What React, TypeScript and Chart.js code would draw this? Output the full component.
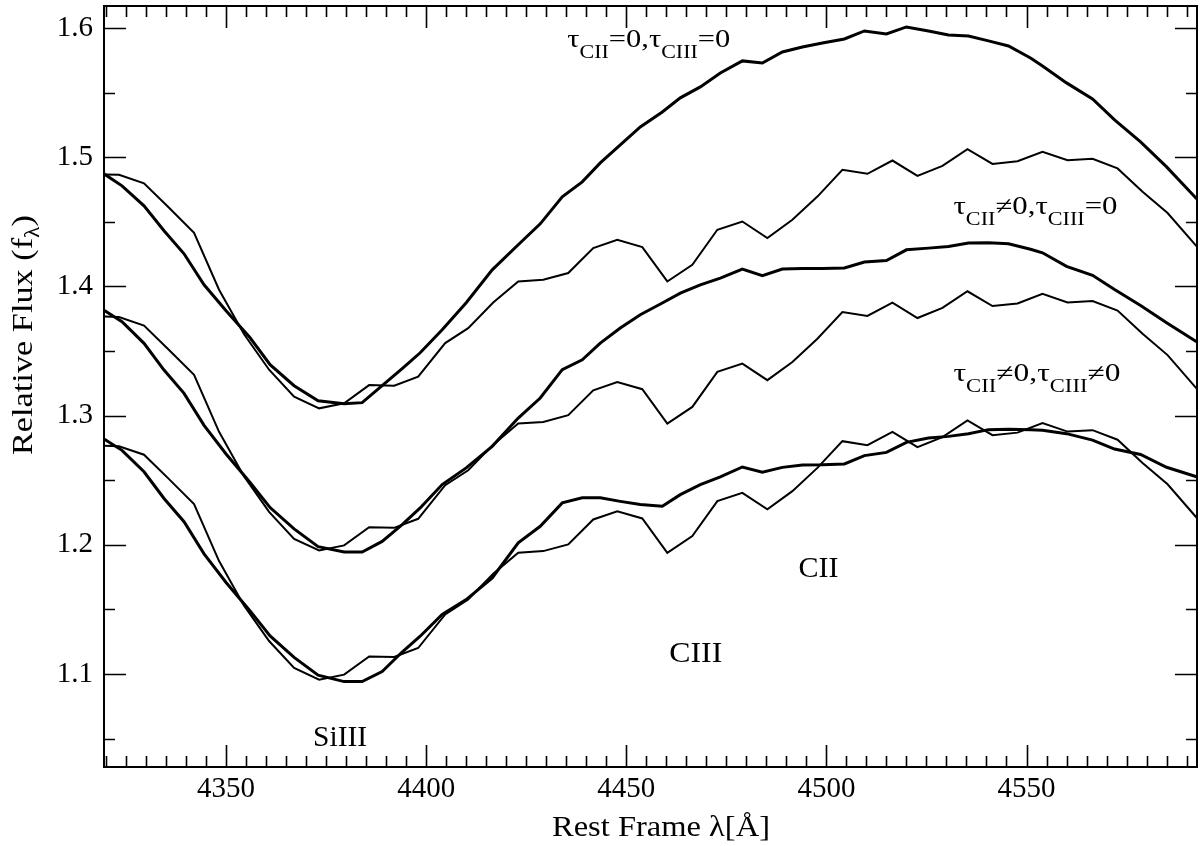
import React, { useEffect, useRef } from "react";
import { Chart, registerables } from "chart.js";

Chart.register(...registerables);

const FONT = "'Liberation Serif', 'Times New Roman', Times, serif";

// Model (thick) curves, sampled wavelengths in Å
const modelWave = [
  4319.5, 4324, 4329.5, 4334.5, 4339.5, 4344.5, 4350, 4356, 4361, 4367, 4373, 4379.5, 4384,
  4389, 4394, 4398.5, 4404, 4410, 4416.5, 4423, 4428.5, 4434, 4439, 4443.5, 4448.5, 4453.5,
  4459, 4463.5, 4468.5, 4473.5, 4479, 4484, 4489, 4494, 4499, 4504.5, 4509.5, 4515, 4520,
  4525.5, 4530.5, 4535.5, 4540.5, 4545.5, 4551, 4554, 4560, 4566.5, 4572, 4578.5, 4585, 4593,
];
const modelTauZero = [
  1.4871, 1.4778, 1.4623, 1.443, 1.4252, 1.4012, 1.3811, 1.3602, 1.3394, 1.3231, 1.3115, 1.3092,
  1.31, 1.3231, 1.3363, 1.3486, 1.3664, 1.3873, 1.4128, 1.4322, 1.4484, 1.4693, 1.4809, 1.4956,
  1.5095, 1.5234, 1.535, 1.5459, 1.5544, 1.5652, 1.5745, 1.5729, 1.5814, 1.5853, 1.5884, 1.5915,
  1.5977, 1.5954, 1.6008, 1.5977, 1.5946, 1.5938, 1.59, 1.5861, 1.5768, 1.5706, 1.5575, 1.5451,
  1.5288, 1.5118, 1.4925, 1.4662,
];
const modelTauCII = [
  1.3816, 1.3726, 1.3559, 1.3352, 1.3172, 1.2924, 1.2703, 1.2482, 1.2288, 1.2123, 1.1985, 1.1944,
  1.1944, 1.2026, 1.2156, 1.2285, 1.2466, 1.2595, 1.2762, 1.2981, 1.3136, 1.3355, 1.3432, 1.3561,
  1.3677, 1.378, 1.3871, 1.3948, 1.4012, 1.4064, 1.4134, 1.4082, 1.4134, 1.4138, 1.4138, 1.4142,
  1.4188, 1.42, 1.4283, 1.4296, 1.4309, 1.4335, 1.4337, 1.4329, 1.4287, 1.426, 1.4155, 1.4086,
  1.3975, 1.3852, 1.3719, 1.3562,
];
const modelTauBoth = [
  1.2819, 1.2731, 1.2565, 1.2358, 1.2179, 1.193, 1.1708, 1.1488, 1.1295, 1.1128, 1.0991, 1.0941,
  1.0941, 1.1019, 1.117, 1.1292, 1.146, 1.1576, 1.1744, 1.2015, 1.2143, 1.2324, 1.2363, 1.2363,
  1.2336, 1.2311, 1.2298, 1.2388, 1.2466, 1.2525, 1.2602, 1.2561, 1.2599, 1.2618, 1.262, 1.2626,
  1.269, 1.2715, 1.2793, 1.2827, 1.2839, 1.286, 1.2891, 1.2895, 1.289, 1.2887, 1.286, 1.281,
  1.2741, 1.2699, 1.26, 1.2521,
];

// Observed (thin) spectrum, shown three times with vertical offsets
const obsWave = [
  4319.5, 4323.25, 4329.5, 4335.75, 4342, 4348.25, 4354.5, 4360.75, 4367, 4373.25, 4379.5,
  4385.75, 4392, 4398, 4404.75, 4410.5, 4416.75, 4423, 4429.25, 4435.5, 4441.75, 4447.75, 4454,
  4460.25, 4466.5, 4472.75, 4479, 4485.25, 4491.5, 4497.75, 4504, 4510.25, 4516.5, 4522.75, 4529,
  4535.25, 4541.5, 4547.75, 4554, 4560.25, 4566.5, 4572.75, 4579, 4585.25, 4593,
];
const obsTop = [
  1.4866, 1.4863, 1.4797, 1.4608, 1.4415, 1.3974, 1.3629, 1.3355, 1.3146, 1.3056, 1.3095, 1.3236,
  1.3231, 1.3301, 1.3561, 1.3677, 1.3875, 1.4038, 1.4051, 1.4103, 1.4296, 1.436, 1.4304, 1.4038,
  1.4167, 1.4438, 1.4502, 1.4374, 1.4515, 1.4695, 1.4902, 1.4871, 1.4974, 1.4855, 1.4933, 1.5062,
  1.4948, 1.4968, 1.5042, 1.4976, 1.4987, 1.4913, 1.4733, 1.4568, 1.4292,
];
const obsMiddle = [
  1.3766, 1.3763, 1.3697, 1.3508, 1.3315, 1.2874, 1.2529, 1.2255, 1.2046, 1.1956, 1.1995, 1.2136,
  1.2131, 1.2201, 1.2461, 1.2577, 1.2775, 1.2938, 1.2951, 1.3003, 1.3196, 1.326, 1.3204, 1.2938,
  1.3067, 1.3338, 1.3402, 1.3274, 1.3415, 1.3595, 1.3802, 1.3771, 1.3874, 1.3755, 1.3833, 1.3962,
  1.3848, 1.3868, 1.3942, 1.3876, 1.3887, 1.3813, 1.3633, 1.3468, 1.3192,
];
const obsBottom = [
  1.2766, 1.2763, 1.2697, 1.2508, 1.2315, 1.1874, 1.1529, 1.1255, 1.1046, 1.0956, 1.0995, 1.1136,
  1.1131, 1.1201, 1.1461, 1.1577, 1.1775, 1.1938, 1.1951, 1.2003, 1.2196, 1.226, 1.2204, 1.1938,
  1.2067, 1.2338, 1.2402, 1.2274, 1.2415, 1.2595, 1.2802, 1.2771, 1.2874, 1.2755, 1.2833, 1.2962,
  1.2848, 1.2868, 1.2942, 1.2876, 1.2887, 1.2813, 1.2633, 1.2468, 1.2192,
];

const xTickValues = [4350, 4400, 4450, 4500, 4550];
const yTickValues = [1.1, 1.2, 1.3, 1.4, 1.5, 1.6];
const X_MIN = 4319.5;
const X_MAX = 4592.6;
const Y_MIN = 1.028;
const Y_MAX = 1.617;
const X_MINOR_STEP = 5;
const Y_MINOR_STEP = 0.05;

type Part = { t: string; sub?: boolean };
type Label = { parts: Part[]; wave: number; flux: number; size: number; width?: number };

const labels: Label[] = [
  { parts: [{ t: "τ" }, { t: "CII", sub: true }, { t: "=0,τ" }, { t: "CIII", sub: true }, { t: "=0" }], wave: 4435.25, flux: 1.5853, size: 25, width: 163 },
  { parts: [{ t: "τ" }, { t: "CII", sub: true }, { t: "≠0,τ" }, { t: "CIII", sub: true }, { t: "=0" }], wave: 4531.75, flux: 1.4561, size: 25, width: 164 },
  { parts: [{ t: "τ" }, { t: "CII", sub: true }, { t: "≠0,τ" }, { t: "CIII", sub: true }, { t: "≠0" }], wave: 4531.75, flux: 1.327, size: 25, width: 167 },
  { parts: [{ t: "CII" }], wave: 4493, flux: 1.1754, size: 30, width: 40 },
  { parts: [{ t: "CIII" }], wave: 4460.75, flux: 1.1089, size: 30, width: 53 },
  { parts: [{ t: "SiIII" }], wave: 4371.75, flux: 1.0439, size: 30, width: 54 },
];

function drawRich(ctx: CanvasRenderingContext2D, parts: Part[], x: number, y: number, size: number, width?: number) {
  const subSize = size * 0.72;
  let total = 0;
  const items = parts.map((p) => {
    const fs = p.sub ? subSize : size;
    ctx.font = `${fs}px ${FONT}`;
    const w = ctx.measureText(p.t).width;
    total += w;
    return { ...p, fs, w };
  });
  const sx = width ? width / total : 1;
  ctx.save();
  ctx.translate(x, y);
  ctx.scale(sx, 1);
  ctx.textBaseline = "alphabetic";
  ctx.textAlign = "left";
  let cx = 0;
  for (const it of items) {
    ctx.font = `${it.fs}px ${FONT}`;
    ctx.fillText(it.t, cx, it.sub ? size * 0.46 : 0);
    cx += it.w;
  }
  ctx.restore();
}

const decorPlugin = {
  id: "decor",
  afterDraw(chart: any) {
    const { ctx, chartArea: a, scales } = chart;
    const xs = scales.x;
    const ys = scales.y;
    ctx.save();
    ctx.strokeStyle = "#000";
    ctx.fillStyle = "#000";
    ctx.lineWidth = 2;
    ctx.strokeRect(a.left, a.top, a.right - a.left, a.bottom - a.top);

    ctx.lineWidth = 1.6;
    ctx.beginPath();
    const xStart = Math.ceil(X_MIN / X_MINOR_STEP) * X_MINOR_STEP;
    for (let v = xStart; v <= X_MAX; v += X_MINOR_STEP) {
      const px = Math.round(xs.getPixelForValue(v)) + 0.5;
      const len = v % 50 === 0 ? 22 : 11;
      ctx.moveTo(px, a.bottom);
      ctx.lineTo(px, a.bottom - len);
      ctx.moveTo(px, a.top);
      ctx.lineTo(px, a.top + len);
    }
    for (let i = Math.ceil(Y_MIN / Y_MINOR_STEP); i * Y_MINOR_STEP <= Y_MAX; i++) {
      const v = i * Y_MINOR_STEP;
      const py = Math.round(ys.getPixelForValue(v)) + 0.5;
      const len = i % 2 === 0 ? 22 : 11;
      ctx.moveTo(a.left, py);
      ctx.lineTo(a.left + len, py);
      ctx.moveTo(a.right, py);
      ctx.lineTo(a.right - len, py);
    }
    ctx.stroke();

    for (const l of labels) {
      drawRich(ctx, l.parts, xs.getPixelForValue(l.wave), ys.getPixelForValue(l.flux), l.size, l.width);
    }

    // x-axis title
    drawRich(ctx, [{ t: "Rest Frame λ[Å]" }], 552, 836, 29, 218);

    // y-axis title (rotated)
    ctx.save();
    ctx.translate(32, 335);
    ctx.rotate(-Math.PI / 2);
    const main1 = "Relative Flux (f";
    const subT = "λ";
    const main2 = ")";
    const fsMain = 29;
    const fsSub = 20;
    ctx.font = `${fsMain}px ${FONT}`;
    const w1 = ctx.measureText(main1).width;
    const w3 = ctx.measureText(main2).width;
    ctx.font = `${fsSub}px ${FONT}`;
    const w2 = ctx.measureText(subT).width;
    const tot = w1 + w2 + w3;
    const target = 240;
    const sx = target / tot;
    ctx.scale(sx, 1);
    ctx.textAlign = "left";
    ctx.textBaseline = "alphabetic";
    ctx.font = `${fsMain}px ${FONT}`;
    ctx.fillText(main1, -tot / 2, 0);
    ctx.font = `${fsSub}px ${FONT}`;
    ctx.fillText(subT, -tot / 2 + w1, 7);
    ctx.font = `${fsMain}px ${FONT}`;
    ctx.fillText(main2, -tot / 2 + w1 + w2, 0);
    ctx.restore();

    ctx.restore();
  },
};

export default function App() {
  const ref = useRef<HTMLCanvasElement | null>(null);
  useEffect(() => {
    document.body.style.margin = "0";
    const canvas = ref.current;
    if (!canvas) return;
    const toPts = (xsArr: number[], ysArr: number[]) => xsArr.map((x, i) => ({ x, y: ysArr[i] }));
    const thick = { borderColor: "#000", borderWidth: 3, pointRadius: 0, fill: false, tension: 0 };
    const thin = { borderColor: "#000", borderWidth: 2, pointRadius: 0, fill: false, tension: 0 };
    const zeroPad = (s: any) => {
      s.paddingTop = 0;
      s.paddingBottom = 0;
      s.paddingLeft = 0;
      s.paddingRight = 0;
    };
    const chart = new Chart(canvas, {
      type: "line",
      data: {
        datasets: [
          { label: "model τ=0", data: toPts(modelWave, modelTauZero), ...thick },
          { label: "model τCII≠0", data: toPts(modelWave, modelTauCII), ...thick },
          { label: "model τCII≠0,τCIII≠0", data: toPts(modelWave, modelTauBoth), ...thick },
          { label: "observed 1", data: toPts(obsWave, obsTop), ...thin },
          { label: "observed 2", data: toPts(obsWave, obsMiddle), ...thin },
          { label: "observed 3", data: toPts(obsWave, obsBottom), ...thin },
        ],
      },
      options: {
        responsive: false,
        animation: false,
        devicePixelRatio: 1,
        layout: { padding: { left: 0, right: 7, top: 6, bottom: 0 } },
        plugins: { legend: { display: false }, tooltip: { enabled: false } },
        scales: {
          x: {
            type: "linear",
            min: X_MIN,
            max: X_MAX,
            grid: { display: false, drawTicks: false },
            border: { display: false },
            afterBuildTicks: (s: any) => {
              s.ticks = xTickValues.map((v) => ({ value: v }));
            },
            afterFit: (s: any) => {
              s.height = 79;
              zeroPad(s);
            },
            ticks: {
              color: "#000",
              font: { family: FONT, size: 29 },
              padding: 5,
              maxRotation: 0,
              autoSkip: false,
              callback: (v: any) => String(v),
            },
          },
          y: {
            type: "linear",
            min: Y_MIN,
            max: Y_MAX,
            grid: { display: false, drawTicks: false },
            border: { display: false },
            afterBuildTicks: (s: any) => {
              s.ticks = yTickValues.map((v) => ({ value: v }));
            },
            afterFit: (s: any) => {
              s.width = 104;
              zeroPad(s);
            },
            ticks: {
              color: "#000",
              font: { family: FONT, size: 29 },
              padding: 11,
              autoSkip: false,
              callback: (v: any) => Number(v).toFixed(1),
            },
          },
        },
      },
      plugins: [decorPlugin],
    });
    return () => chart.destroy();
  }, []);
  return (
    <div style={{ width: 1204, height: 846, background: "#fff" }}>
      <canvas ref={ref} width={1204} height={846} style={{ display: "block", width: 1204, height: 846 }} />
    </div>
  );
}
